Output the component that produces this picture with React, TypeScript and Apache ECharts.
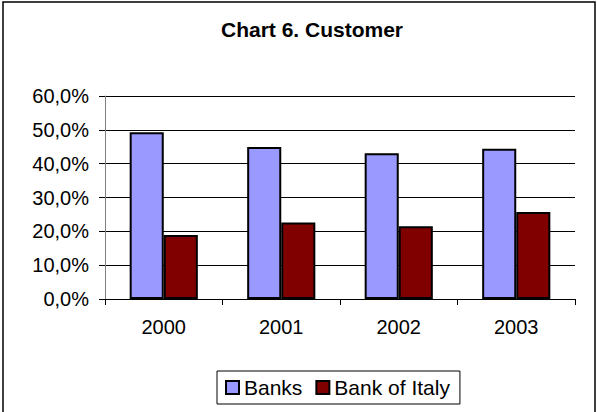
import React, { useEffect, useRef } from "react";
import * as echarts from "echarts";

const categories = ["2000", "2001", "2002", "2003"];
const banks = [0.493, 0.449, 0.431, 0.444];
const bankOfItaly = [0.189, 0.226, 0.215, 0.257];
const seriesNames = ["Banks", "Bank of Italy"];
const titleText = "Chart 6. Customer";

const FONT = "'Liberation Sans', Arial, sans-serif";

export default function App() {
  const ref = useRef<HTMLDivElement>(null);
  useEffect(() => {
    if (!ref.current) return;
    const chart = echarts.init(ref.current, undefined, { renderer: "svg" });
    chart.setOption({
      animation: false,
      backgroundColor: "#ffffff",
      textStyle: { fontFamily: FONT },
      title: {
        text: titleText,
        left: 307,
        textAlign: "center",
        top: 14,
        textStyle: { fontFamily: FONT, fontWeight: "bold", fontSize: 21, color: "#000" },
      },
      graphic: [
        {
          type: "rect",
          shape: { x: 3, y: 2, width: 592, height: 430 },
          style: { fill: "none", stroke: "#000", lineWidth: 1.5 },
          silent: true,
        },
      ],
      grid: { left: 105, right: 22, top: 96, bottom: 113, containLabel: false },
      legend: {
        data: seriesNames,
        left: 217,
        top: 371,
        orient: "horizontal",
        icon: "rect",
        itemWidth: 13,
        itemHeight: 13,
        itemGap: 13,
        padding: [6, 10, 6, 8],
        borderColor: "#000",
        borderWidth: 1,
        textStyle: { fontFamily: FONT, fontSize: 21, color: "#000" },
      },
      xAxis: {
        type: "category",
        data: categories,
        axisLine: { show: true, lineStyle: { color: "#000", width: 1 } },
        axisTick: { show: true, alignWithLabel: false, length: 6, lineStyle: { color: "#000" } },
        axisLabel: { fontFamily: FONT, fontSize: 20, color: "#000", margin: 18 },
        splitLine: { show: false },
      },
      yAxis: {
        type: "value",
        min: 0,
        max: 0.6,
        interval: 0.1,
        axisLine: { show: true, lineStyle: { color: "#808080", width: 1 } },
        axisTick: { show: true, length: 6, lineStyle: { color: "#000" } },
        axisLabel: {
          fontFamily: FONT,
          fontSize: 20,
          color: "#000",
          margin: 16,
          formatter: (v: number) => (v * 100).toFixed(1).replace(".", ",") + "%",
        },
        splitLine: { show: true, lineStyle: { color: "#000", width: 1 } },
      },
      series: [
        {
          name: seriesNames[0],
          type: "bar",
          data: banks,
          barGap: "0%",
          barCategoryGap: "42%",
          itemStyle: { color: "#9999FF", borderColor: "#000", borderWidth: 2 },
        },
        {
          name: seriesNames[1],
          type: "bar",
          data: bankOfItaly,
          barGap: "0%",
          barCategoryGap: "42%",
          itemStyle: { color: "#800000", borderColor: "#000", borderWidth: 2 },
        },
      ],
    });
    return () => chart.dispose();
  }, []);
  return (
    <div
      ref={ref}
      style={{ position: "fixed", left: 0, top: 0, width: 597, height: 412 }}
    />
  );
}
